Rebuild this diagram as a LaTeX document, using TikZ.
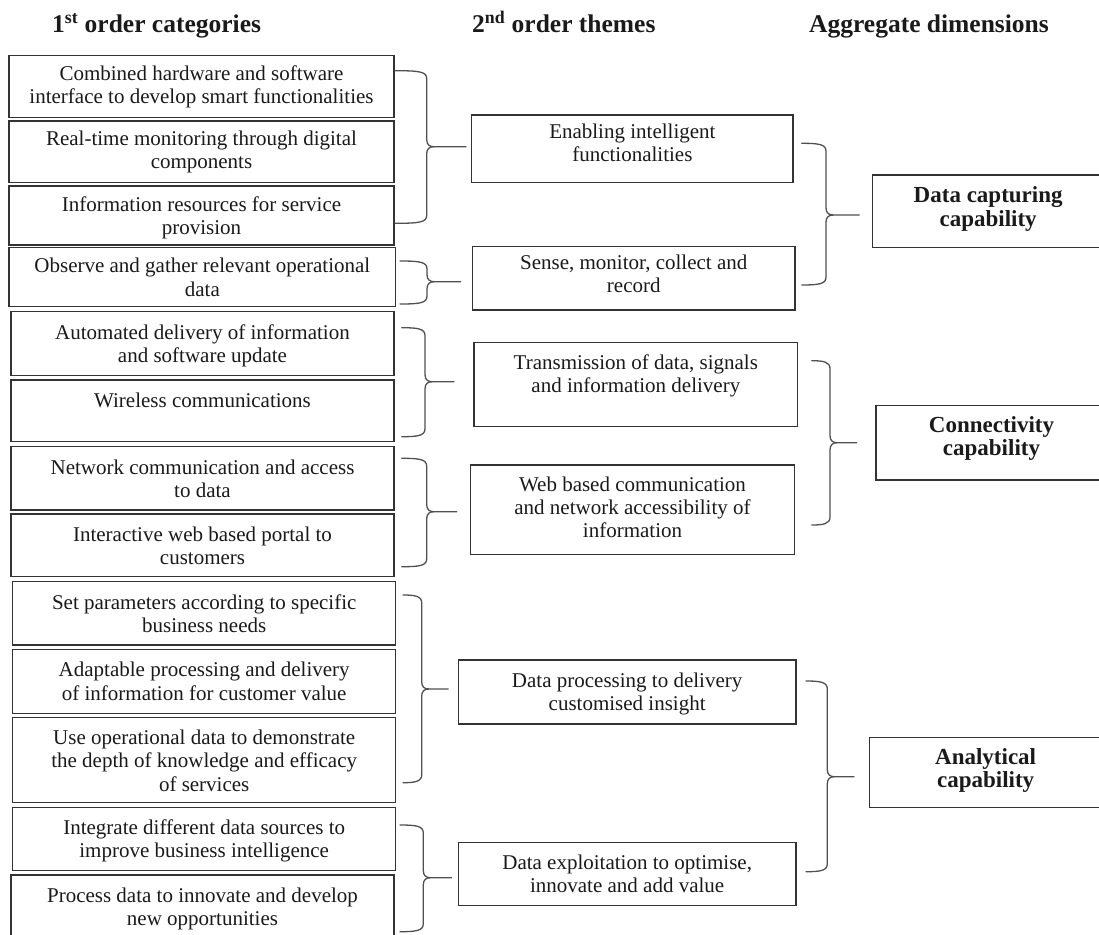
\documentclass[tikz,border=0pt]{standalone}
\usepackage{fontspec}
\setmainfont{Liberation Serif}
\definecolor{ink}{HTML}{1A1A1A}
\definecolor{boxline}{HTML}{333333}
\definecolor{braceline}{HTML}{505050}
\tikzset{
  box/.style={draw=boxline, line width=1.4pt, rectangle, inner sep=0pt},
  txt/.style={align=center, inner sep=0pt, text=ink, font=\fontsize{21}{23.3}\selectfont},
  aggtxt/.style={font=\fontsize{23}{23.3}\selectfont\bfseries},
  heading/.style={anchor=base west, inner sep=0pt, text=ink, font=\fontsize{25.5}{28}\selectfont\bfseries},
  brk/.style={draw=braceline, line width=1.3pt, line cap=round, line join=round}
}
% #1 extra text style, #2 name, #3 x1, #4 x2, #5 y1, #6 y2, #7 first line centre y, #8 text
\newcommand\catbox[8][]{%
  \pgfmathsetmacro\cbW{#4-#3}\pgfmathsetmacro\cbH{#6-#5}%
  \pgfmathsetmacro\cbX{(#3+#4)/2}\pgfmathsetmacro\cbY{(#5+#6)/2}%
  \pgfmathsetmacro\cbT{#7-10.3}%
  \node[box, minimum width=\cbW pt, minimum height=\cbH pt] (#2) at (\cbX,\cbY) {};
  \node[txt, anchor=north, #1] (#2t) at (\cbX,\cbT) {\strut #8};
}
% x0, top, xv, tip, xe, bottom
\newcommand\mybrace[6]{%
  \draw[brk] (#1,#2) .. controls (#3-7,#2) and (#3,#2+1) .. (#3,#2+8) -- (#3,#4-7)
     .. controls (#3,#4-2) and (#3+3,#4) .. (#3+7,#4) -- (#5,#4);
  \draw[brk] (#3+7,#4) .. controls (#3+3,#4) and (#3,#4+2) .. (#3,#4+7) -- (#3,#6-8)
     .. controls (#3,#6-1) and (#3-7,#6) .. (#1,#6);
}
\begin{document}
\begin{tikzpicture}[x=1pt,y=-1pt]
\useasboundingbox (0,0) rectangle (1099,934);
\clip (0,0) rectangle (1099,934);
\fill[white] (0,0) rectangle (1099,934);

% headings
\node[heading] (h1) at (52,33) {1\textsuperscript{st} order categories};
\node[heading] (h2) at (472,33) {2\textsuperscript{nd} order themes};
\node[heading] (h3) at (809,33) {Aggregate dimensions};

% first order categories
\catbox{c1}{9}{394}{55.7}{117.3}{74}{Combined hardware and software\\interface to develop smart functionalities}
\catbox{c2}{9}{394}{121}{182.7}{139.3}{Real-time monitoring through digital\\components}
\catbox{c3}{9}{394}{186}{245}{205}{Information resources for service\\provision}
\catbox{c4}{9}{395.7}{247.7}{306.7}{266.7}{Observe and gather relevant operational\\data}
\catbox{c5}{11}{394}{311.7}{375.3}{333.3}{Automated delivery of information\\and software update}
\catbox{c6}{11}{394}{380}{441.7}{401.7}{Wireless communications}
\catbox{c7}{11}{394}{446.7}{510}{468.3}{Network communication and access\\to data}
\catbox{c8}{11}{394}{514}{576.7}{535}{Interactive web based portal to\\customers}
\catbox{c9}{12.7}{395.7}{581.7}{645}{603.3}{Set parameters according to specific\\business needs}
\catbox{c10}{12.7}{395.7}{649.3}{713.3}{670.7}{Adaptable processing and delivery\\of information for customer value}
\catbox{c11}{12.7}{395.7}{717.7}{802.7}{738.3}{Use operational data to demonstrate\\the depth of knowledge and efficacy\\of services}
\catbox{c12}{12.7}{395.7}{807.3}{870.7}{828.3}{Integrate different data sources to\\improve business intelligence}
\catbox{c13}{11}{394}{875}{945}{896}{Process data to innovate and develop\\new opportunities}

% second order themes
\catbox{tA}{471.7}{793}{115}{182.7}{132}{Enabling intelligent\\functionalities}
\catbox{tB}{472.5}{795}{246.7}{310}{263}{Sense, monitor, collect and\\record}
\catbox{tC}{474}{797.7}{342.3}{426.7}{363.3}{Transmission of data, signals\\and information delivery}
\catbox{tD}{470.7}{794.3}{465}{554.3}{485}{Web based communication\\and network accessibility of\\information}
\catbox{tE}{458.3}{796}{660}{724}{681}{Data processing to delivery\\customised insight}
\catbox{tF}{458.3}{796}{842.3}{905.7}{863.3}{Data exploitation to optimise,\\innovate and add value}

% aggregate dimensions
\catbox[aggtxt]{dA}{872.3}{1104}{175}{247.7}{196.7}{Data capturing\\capability}
\catbox[aggtxt]{dB}{876}{1107}{405.7}{480}{426}{Connectivity\\capability}
\catbox[aggtxt]{dC}{869.3}{1102}{737.3}{807.3}{758.3}{Analytical\\capability}

% braces: categories -> themes
\mybrace{395}{70.7}{426.7}{146.7}{466}{223.3}
\mybrace{400}{261}{427}{281.7}{460.7}{304}
\mybrace{401.7}{327.7}{425}{381.7}{454}{436.7}
\mybrace{401.7}{458.3}{426.7}{511.7}{456.7}{566.7}
\mybrace{403}{595}{421.7}{689}{448.3}{782.7}
\mybrace{400}{825}{423.3}{877.7}{451.7}{931.7}
% braces: themes -> dimensions
\mybrace{801.7}{143.3}{826}{215}{859.3}{285}
\mybrace{811.7}{360.7}{830}{442.7}{856.7}{525}
\mybrace{806}{681}{827.3}{776.7}{854}{871.7}
\end{tikzpicture}
\end{document}
